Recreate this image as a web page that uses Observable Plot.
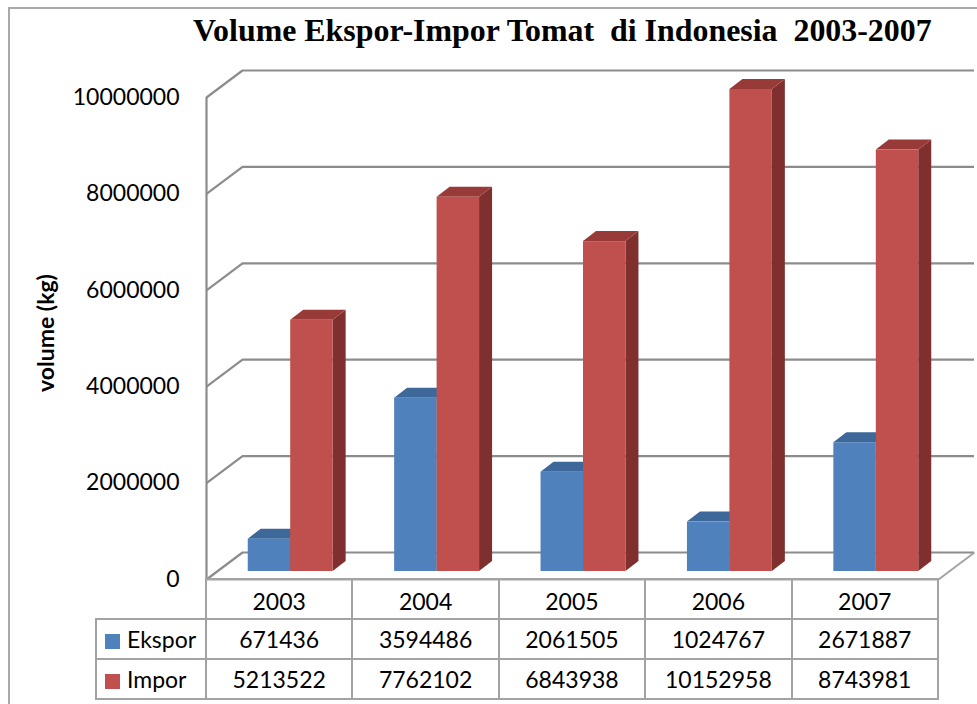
<!DOCTYPE html>
<html>
<head>
<meta charset="utf-8">
<script src="https://cdn.jsdelivr.net/npm/d3@7"></script>
<script src="https://cdn.jsdelivr.net/npm/@observablehq/plot@0.6"></script>
<style>
  html, body { margin: 0; padding: 0; background: #fff; overflow: hidden; }
  #wrap { position: relative; width: 977px; height: 704px; overflow: hidden; background: #fff; }
  #frame { position: absolute; left: 8px; top: 7px; width: 1000px; height: 800px; border: 2px solid #a9a9a9; box-sizing: border-box; }
  #chart { position: absolute; left: 0; top: 0; }
  #title { position: absolute; left: 193px; top: 15px; font: bold 31.9px "Liberation Serif", "Times New Roman", serif; line-height: 1; white-space: pre; color: #000; }
  #ylabel { position: absolute; left: 45px; top: 333px; font: bold 23px Lato, sans-serif; white-space: nowrap; color: #000; transform: translate(-50%, -50%) rotate(-90deg); line-height: 1; }
  #tbl { position: absolute; left: 95px; top: 578px; border-collapse: collapse; table-layout: fixed; width: 844px; font: 23px Lato, sans-serif; color: #000; }
  #tbl td { border: 2px solid #a3a3a3; padding: 0; height: 38px; text-align: center; vertical-align: middle; white-space: nowrap; }
  #tbl td.blank { border: none; }
  #tbl tr.yr td { padding-top: 3px; height: 35px; }
  #tbl td.lab { text-align: left; padding-left: 8px; }
  #tbl .key { display: inline-block; width: 15px; height: 15px; margin-right: 7px; vertical-align: -1px; }
</style>
</head>
<body>
<div id="wrap">
  <div id="frame"></div>
  <div id="chart"></div>
  <div id="title"></div>
  <div id="ylabel"></div>
  <table id="tbl"></table>
</div>
<script>
// ---- data ----
const title = "Volume Ekspor-Impor Tomat  di Indonesia  2003-2007";
const yLabel = "volume (kg)";
const years = ["2003", "2004", "2005", "2006", "2007"];
const seriesNames = ["Ekspor", "Impor"];
const ekspor = [671436, 3594486, 2061505, 1024767, 2671887];
const impor = [5213522, 7762102, 6843938, 10152958, 8743981];
const yTicks = [0, 2000000, 4000000, 6000000, 8000000, 10000000];

// ---- style / layout ----
const colors = {
  front: ["#4f81bd", "#c0504d"],
  top: ["#3d6899", "#983b38"],
  side: ["#345a88", "#7f302e"]
};
const W = 977, H = 704;
const mL = 206, mR = 39, mT = 97, mB = 125;
const nCat = years.length;
const yMax = yTicks[yTicks.length - 1];
const pxX = (W - mL - mR) / nCat;          // px per category unit
const pxY = (H - mT - mB) / yMax;          // px per value unit
const WDX = 36, WDY = 27;                  // wall depth (px)
const BSX = 11, BSY = 8;                   // bar front-plane shift (px)
const BDX = 13, BDY = 10;                  // bar depth (px)
const BW = 0.29;                           // bar width (category units)
const grid = "#8c8c8c";

document.getElementById("title").textContent = title;
document.getElementById("ylabel").textContent = yLabel;

const series = [ekspor, impor];
const bars = [];
years.forEach((yr, i) => {
  series.forEach((vals, s) => {
    const x1 = s === 0 ? i + 0.5 - BW : i + 0.5;
    // bars are cut at the axis maximum, as in the original chart
    bars.push({id: yr + "-" + s, s, year: yr, v: vals[i], h: Math.min(vals[i], yMax), x1, x2: x1 + BW});
  });
});
const sidePts = bars.flatMap(b => [
  {id: b.id, s: b.s, x: b.x2, y1: 0, y2: b.h},
  {id: b.id, s: b.s, x: b.x2 + BDX / pxX, y1: BDY / pxY, y2: b.h + BDY / pxY}
]);
const topPts = bars.flatMap(b => [
  {id: b.id, s: b.s, y: b.h, x1: b.x1, x2: b.x2},
  {id: b.id, s: b.s, y: b.h + BDY / pxY, x1: b.x1 + BDX / pxX, x2: b.x2 + BDX / pxX}
]);
const wallLinks = yTicks.map(t => ({x1: 0, y1: t, x2: WDX / pxX, y2: t + WDY / pxY}));
const floorLinks = [{x1: nCat, y1: 0, x2: nCat + WDX / pxX, y2: WDY / pxY}];

const barMarks = [];
[0, 1].forEach(s => {
  barMarks.push(
    Plot.areaY(sidePts.filter(d => d.s === s), {x: "x", y1: "y1", y2: "y2", z: "id", fill: colors.side[s], dx: BSX, dy: -BSY}),
    Plot.areaX(topPts.filter(d => d.s === s), {y: "y", x1: "x1", x2: "x2", z: "id", fill: colors.top[s], dx: BSX, dy: -BSY}),
    Plot.rect(bars.filter(d => d.s === s), {x1: "x1", x2: "x2", y1: () => 0, y2: "h", fill: colors.front[s], dx: BSX, dy: -BSY})
  );
});

const chart = Plot.plot({
  width: W, height: H,
  marginLeft: mL, marginRight: mR, marginTop: mT, marginBottom: mB,
  x: {domain: [0, nCat], axis: null},
  y: {domain: [0, yMax], axis: null},
  style: {fontFamily: "Lato, sans-serif", fontSize: "23px", color: "#000", background: "transparent", overflow: "visible"},
  marks: [
    // back wall gridlines
    Plot.ruleY(yTicks, {y: d => d, x1: () => 0, x2: () => nCat, dx: WDX, dy: -WDY, stroke: grid, strokeWidth: 2.2}),
    // left wall slanted gridlines
    Plot.link(wallLinks, {x1: "x1", y1: "y1", x2: "x2", y2: "y2", stroke: grid, strokeWidth: 2.2}),
    // left wall front edge
    Plot.ruleX([0], {x: d => d, y1: () => 0, y2: () => yMax, stroke: grid, strokeWidth: 2.2}),
    // floor front and right edges
    Plot.ruleY([0], {y: d => d, x1: () => 0, x2: () => nCat, stroke: "#a3a3a3", strokeWidth: 2}),
    Plot.link(floorLinks, {x1: "x1", y1: "y1", x2: "x2", y2: "y2", stroke: "#a3a3a3", strokeWidth: 2}),
    ...barMarks,
    // y tick labels
    Plot.text(yTicks, {x: () => 0, y: d => d, text: d => String(d), dx: -27, textAnchor: "end", fill: "#000", fontSize: 23})
  ]
});
document.getElementById("chart").appendChild(chart);

// ---- data table ----
const tbl = document.getElementById("tbl");
const cg = document.createElement("colgroup");
[110, ...years.map(() => pxX)].forEach(w => {
  const c = document.createElement("col"); c.style.width = w + "px"; cg.appendChild(c);
});
tbl.appendChild(cg);
const trY = document.createElement("tr"); trY.className = "yr";
const blank = document.createElement("td"); blank.className = "blank"; trY.appendChild(blank);
years.forEach(y => { const td = document.createElement("td"); td.textContent = y; trY.appendChild(td); });
tbl.appendChild(trY);
seriesNames.forEach((name, s) => {
  const tr = document.createElement("tr");
  const lab = document.createElement("td"); lab.className = "lab";
  const key = document.createElement("span"); key.className = "key"; key.style.background = colors.front[s];
  lab.appendChild(key); lab.appendChild(document.createTextNode(name));
  tr.appendChild(lab);
  series[s].forEach(v => { const td = document.createElement("td"); td.textContent = String(v); tr.appendChild(td); });
  tbl.appendChild(tr);
});
</script>
</body>
</html>
